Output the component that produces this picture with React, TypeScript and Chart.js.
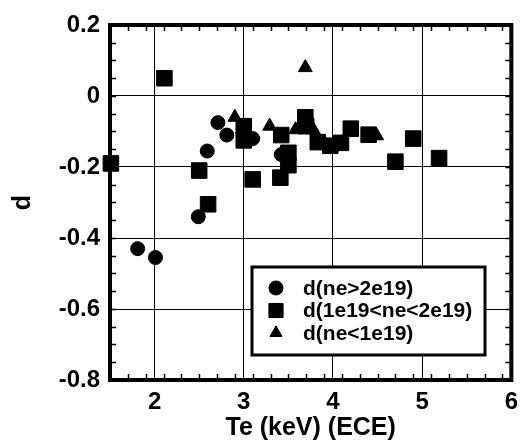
import { useEffect, useRef } from 'react';
import { Chart, registerables } from 'chart.js';
import { drawPoint } from 'chart.js/helpers';

Chart.register(...registerables);

// ---- data ----
const highNeX = [1.81, 2.01, 2.49, 2.59, 2.71, 2.81, 3.1, 3.42];
const highNeY = [-0.43, -0.455, -0.34, -0.155, -0.075, -0.11, -0.12, -0.165];

const midNeX = [1.51, 2.11, 2.5, 2.6, 3.0, 3.0, 3.1, 3.42, 3.41, 3.5, 3.5, 3.69, 3.7, 3.83, 3.97, 4.09, 4.2, 4.4, 4.7, 4.9, 5.19];
const midNeY = [-0.19, 0.05, -0.21, -0.305, -0.085, -0.125, -0.235, -0.11, -0.23, -0.16, -0.195, -0.06, -0.085, -0.13, -0.14, -0.132, -0.092, -0.109, -0.185, -0.12, -0.175];

const lowNeX = [2.9, 3.29, 3.58, 3.69, 3.78, 4.49];
const lowNeY = [-0.06, -0.085, -0.095, 0.08, -0.095, -0.112];

const seriesLabels = ['d(ne>2e19)', 'd(1e19<ne<2e19)', 'd(ne<1e19)'];

const xTickValues = [2, 3, 4, 5, 6];
const xTickLabels = ['2', '3', '4', '5', '6'];
const yTickValues = [0.2, 0, -0.2, -0.4, -0.6, -0.8];
const yTickLabels = ['0.2', '0', '-0.2', '-0.4', '-0.6', '-0.8'];

const xTitle = 'Te (keV) (ECE)';
const yTitle = 'd';

const X_MIN = 1.5;
const X_MAX = 6;
const Y_MIN = -0.8;
const Y_MAX = 0.2;
const X_MINOR = 0.2;
const Y_MINOR = 0.05;

const FONT = "'Liberation Sans', Arial, Helvetica, sans-serif";

const toPoints = (xs: number[], ys: number[]) => xs.map((x, i) => ({ x, y: ys[i] }));

const frameTicksPlugin = {
  id: 'frameTicks',
  beforeDatasetsDraw(chart: any) {
    const ctx = chart.ctx;
    const xs = chart.scales.x;
    const ys = chart.scales.y;
    const { left, right, top, bottom } = chart.chartArea;
    const T = 6;
    ctx.save();
    ctx.strokeStyle = '#000';
    ctx.lineWidth = 1.5;
    ctx.beginPath();
    for (let v = X_MIN + X_MINOR; v < X_MAX - 1e-9; v += X_MINOR) {
      const px = Math.round(xs.getPixelForValue(v)) + 0.5;
      ctx.moveTo(px, bottom);
      ctx.lineTo(px, bottom - T);
      ctx.moveTo(px, top);
      ctx.lineTo(px, top + T);
    }
    for (let v = Y_MIN + Y_MINOR; v < Y_MAX - 1e-9; v += Y_MINOR) {
      const py = Math.round(ys.getPixelForValue(v)) + 0.5;
      ctx.moveTo(left, py);
      ctx.lineTo(left + T, py);
      ctx.moveTo(right, py);
      ctx.lineTo(right - T, py);
    }
    ctx.stroke();
    ctx.lineWidth = 4;
    ctx.strokeRect(left, top, right - left, bottom - top);
    ctx.restore();
  },
};

const legendBoxPlugin = {
  id: 'legendBox',
  afterDraw(chart: any) {
    const ctx = chart.ctx;
    const { left, top } = chart.chartArea;
    const bx = left + 142;
    const by = top + 242;
    const bw = 233;
    const bh = 88;
    ctx.save();
    ctx.fillStyle = '#fff';
    ctx.fillRect(bx, by, bw, bh);
    ctx.strokeStyle = '#000';
    ctx.lineWidth = 3;
    ctx.strokeRect(bx, by, bw, bh);
    ctx.font = `bold 21px ${FONT}`;
    ctx.textBaseline = 'middle';
    ctx.textAlign = 'left';
    chart.data.datasets.forEach((ds: any, i: number) => {
      const cy = by + 21 + i * 22.5;
      ctx.fillStyle = '#000';
      ctx.strokeStyle = '#000';
      ctx.lineWidth = 1;
      drawPoint(ctx, { pointStyle: ds.pointStyle, radius: ds.legendRadius, rotation: 0, borderWidth: 1 } as any, bx + 24, cy);
      ctx.fill();
      ctx.fillStyle = '#000';
      ctx.fillText(ds.label, bx + 51, cy + 1);
    });
    ctx.restore();
  },
};

export default function App() {
  const ref = useRef<HTMLCanvasElement | null>(null);

  useEffect(() => {
    if (!ref.current) return;
    const chart = new Chart(ref.current, {
      type: 'scatter',
      data: {
        datasets: [
          {
            label: seriesLabels[0],
            data: toPoints(highNeX, highNeY),
            pointStyle: 'circle',
            pointRadius: 7,
            legendRadius: 7,
            backgroundColor: '#000',
            borderColor: '#000',
            borderWidth: 1,
            clip: false,
          } as any,
          {
            label: seriesLabels[1],
            data: toPoints(midNeX, midNeY),
            pointStyle: 'rect',
            pointRadius: 11,
            legendRadius: 10,
            backgroundColor: '#000',
            borderColor: '#000',
            borderWidth: 1,
            clip: false,
          } as any,
          {
            label: seriesLabels[2],
            data: toPoints(lowNeX, lowNeY),
            pointStyle: 'triangle',
            pointRadius: 8,
            legendRadius: 7,
            backgroundColor: '#000',
            borderColor: '#000',
            borderWidth: 1,
            clip: false,
          } as any,
        ],
      },
      options: {
        responsive: false,
        animation: false,
        events: [],
        layout: { padding: { top: 25, right: 13, left: 0, bottom: 0 } },
        plugins: {
          legend: { display: false },
          tooltip: { enabled: false },
        },
        scales: {
          x: {
            type: 'linear',
            min: X_MIN,
            max: X_MAX,
            afterBuildTicks: (s: any) => {
              s.ticks = xTickValues.map((v) => ({ value: v }));
            },
            afterFit: (s: any) => {
              s.height = 64;
            },
            border: { display: false },
            grid: { color: '#000', lineWidth: 1, drawTicks: false },
            ticks: {
              color: '#000',
              padding: 8,
              font: { family: FONT, size: 24, weight: 'bold' },
              callback: (v: any) => {
                const i = xTickValues.indexOf(Number(v));
                return i >= 0 ? xTickLabels[i] : '';
              },
            },
            title: {
              display: true,
              text: xTitle,
              color: '#000',
              font: { family: FONT, size: 25, weight: 'bold' },
              padding: { top: 0, bottom: 1 },
            },
          },
          y: {
            type: 'linear',
            min: Y_MIN,
            max: Y_MAX,
            afterBuildTicks: (s: any) => {
              s.ticks = yTickValues.map((v) => ({ value: v }));
            },
            afterFit: (s: any) => {
              s.width = 110;
            },
            border: { display: false },
            grid: { color: '#000', lineWidth: 1, drawTicks: false },
            ticks: {
              color: '#000',
              padding: 10,
              font: { family: FONT, size: 24, weight: 'bold' },
              callback: (v: any) => {
                const i = yTickValues.findIndex((t) => Math.abs(t - Number(v)) < 1e-9);
                return i >= 0 ? yTickLabels[i] : '';
              },
            },
            title: {
              display: true,
              text: yTitle,
              color: '#000',
              font: { family: FONT, size: 25, weight: 'bold' },
              padding: { top: 8, bottom: 0 },
            },
          },
        },
      } as any,
      plugins: [frameTicksPlugin, legendBoxPlugin],
    });
    return () => chart.destroy();
  }, []);

  return (
    <div style={{ position: 'absolute', left: 0, top: 0, width: 526, height: 444, background: '#fff' }}>
      <canvas ref={ref} width={526} height={444} />
    </div>
  );
}
